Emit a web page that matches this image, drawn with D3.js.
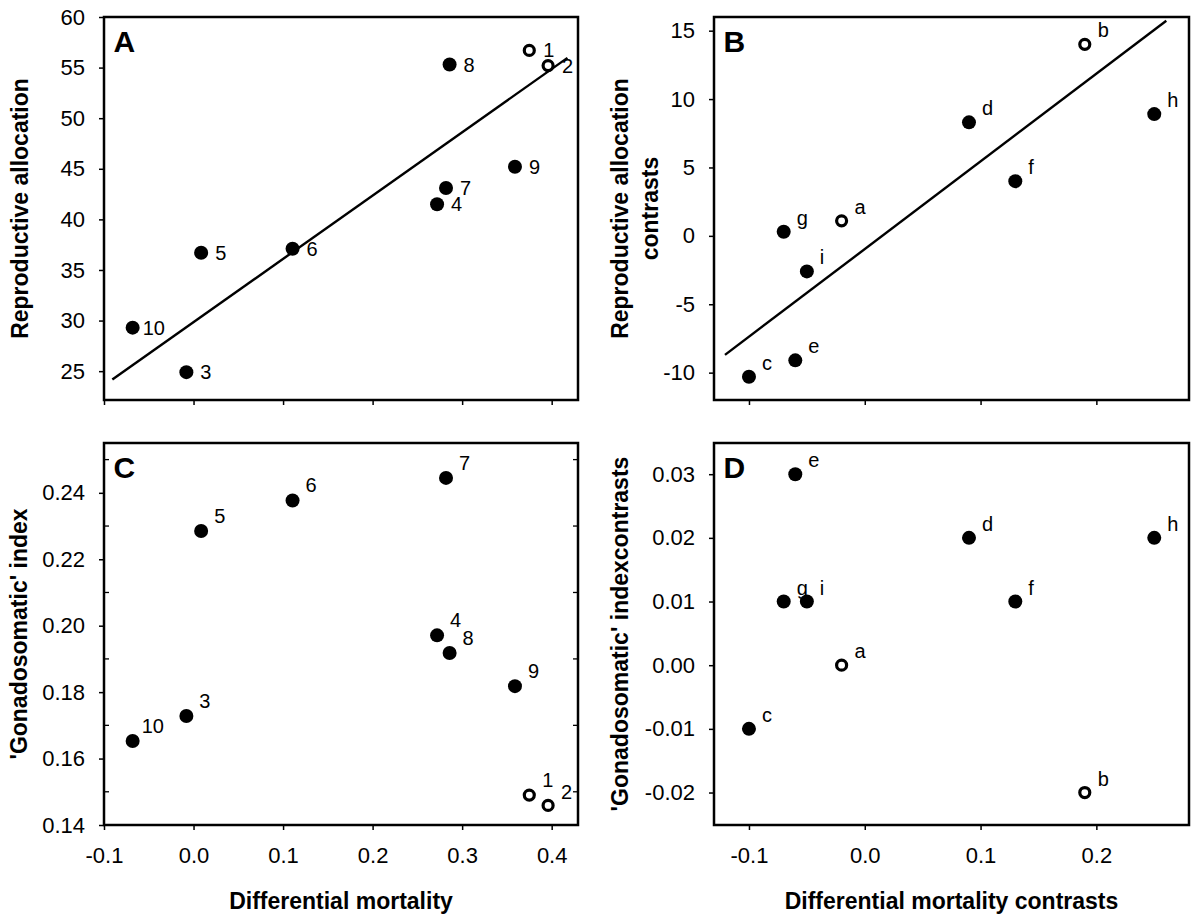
<!DOCTYPE html>
<html><head><meta charset="utf-8">
<script src="https://cdn.jsdelivr.net/npm/d3@7"></script>
<style>
html,body{margin:0;padding:0;background:#fff;}
svg{display:block;font-family:"Liberation Sans",Arial,Helvetica,sans-serif;}
</style></head><body>
<svg id="chart" width="1200" height="920"></svg>
<script>
// ---------- data ----------
const speciesIds = ["1","2","3","4","5","6","7","8","9","10"];
const speciesOpen = [true,true,false,false,false,false,false,false,false,false];
const differentialMortality = [0.375,0.396,-0.008,0.272,0.0085,0.1106,0.282,0.286,0.359,-0.068];
const reproductiveAllocation = [56.7,55.2,24.9,41.5,36.7,37.1,43.1,55.3,45.2,29.3];
const gonadosomaticIndex = [0.149,0.1459,0.1728,0.1971,0.2285,0.2377,0.2445,0.1918,0.1818,0.1653];

const contrastIds = ["a","b","c","d","e","f","g","h","i"];
const contrastOpen = [true,true,false,false,false,false,false,false,false];
const mortalityContrasts = [-0.02,0.19,-0.10,0.09,-0.06,0.13,-0.07,0.25,-0.05];
const allocationContrasts = [1.1,14.0,-10.3,8.3,-9.1,4.0,0.3,8.9,-2.6];
const gonadosomaticContrasts = [0.00,-0.02,-0.01,0.02,0.03,0.01,0.01,0.02,0.01];

const fitAx = [-0.0907, 0.4176];
const fitAy = [24.17, 55.96];
const fitBx = [-0.1207, 0.2604];
const fitBy = [-8.70, 15.72];

const ticksXA = [-0.1,0,0.1,0.2,0.3,0.4];
const ticksYA = [25,30,35,40,45,50,55,60];
const ticksXB = [-0.1,0,0.1,0.2];
const ticksYB = [-10,-5,0,5,10,15];
const ticksYC = [0.14,0.16,0.18,0.20,0.22,0.24];
const minorYC = [0.15,0.17,0.19,0.21,0.23,0.25];
const ticksYD = [-0.02,-0.01,0,0.01,0.02,0.03];

// ---------- layout ----------
const svg = d3.select("#chart");
const FONT = '"Liberation Sans",Arial,Helvetica,sans-serif';

const panels = [
  {letter:"A", box:{l:104,r:578,t:17,b:400}, xd:[-0.1,0.4294], yd:[22.15,60],
   xs:differentialMortality, ys:reproductiveAllocation, ids:speciesIds, open:speciesOpen,
   xt:ticksXA, yt:ticksYA, xfmt:null, yfmt:d=>d.toFixed(0), fit:[fitAx,fitAy],
   ldx:14, ldy:7, lover:{"10":{dx:10}},
   ytitle:["Reproductive allocation"], ytx:[28]},
  {letter:"B", box:{l:714,r:1189,t:17,b:400}, xd:[-0.1302,0.28], yd:[-12,16],
   xs:mortalityContrasts, ys:allocationContrasts, ids:contrastIds, open:contrastOpen,
   xt:ticksXB, yt:ticksYB, xfmt:null, yfmt:d=>d.toFixed(0), fit:[fitBx,fitBy],
   ldx:13, ldy:-7, lover:{},
   ytitle:["Reproductive allocation","contrasts"], ytx:[628,658]},
  {letter:"C", box:{l:104,r:578,t:443,b:825}, xd:[-0.1,0.4294], yd:[0.14,0.255],
   xs:differentialMortality, ys:gonadosomaticIndex, ids:speciesIds, open:speciesOpen,
   xt:ticksXA, yt:ticksYC, minor:minorYC, xfmt:d=>d.toFixed(1), yfmt:d=>d.toFixed(2), fit:null,
   ldx:13, ldy:-8, lover:{"10":{dx:9},"2":{dy:-6}},
   ytitle:["'Gonadosomatic' index"], ytx:[27],
   xtitle:"Differential mortality"},
  {letter:"D", box:{l:714,r:1189,t:443,b:825}, xd:[-0.1302,0.28], yd:[-0.0251,0.0349],
   xs:mortalityContrasts, ys:gonadosomaticContrasts, ids:contrastIds, open:contrastOpen,
   xt:ticksXB, yt:ticksYD, xfmt:d=>d.toFixed(1), yfmt:d=>d.toFixed(2), fit:null,
   ldx:13, ldy:-7, lover:{},
   ytitle:["'Gonadosomatic' indexcontrasts"], ytx:[628],
   xtitle:"Differential mortality contrasts"}
];

panels.forEach(p => {
  const b = p.box;
  const x = d3.scaleLinear().domain(p.xd).range([b.l, b.r]);
  const y = d3.scaleLinear().domain(p.yd).range([b.b, b.t]);
  const g = svg.append("g");

  // y axis
  const ya = d3.axisLeft(y).tickValues(p.yt).tickSize(5).tickPadding(14).tickFormat(p.yfmt);
  const yg = g.append("g").attr("transform", `translate(${b.l},0)`).call(ya);
  yg.select(".domain").remove();
  yg.selectAll("line").attr("stroke","#000").attr("stroke-width",1.5);
  yg.selectAll("text").attr("font-size",22).attr("font-family",FONT).attr("fill","#000");

  // x axis
  const xa = d3.axisBottom(x).tickValues(p.xt).tickSize(5).tickPadding(17)
      .tickFormat(p.xfmt ? p.xfmt : () => "");
  const xg = g.append("g").attr("transform", `translate(0,${b.b})`).call(xa);
  xg.select(".domain").remove();
  xg.selectAll("line").attr("stroke","#000").attr("stroke-width",1.5);
  xg.selectAll("text").attr("font-size",22).attr("font-family",FONT).attr("fill","#000");

  // minor ticks (inside, both sides)
  if (p.minor) {
    g.selectAll(".minL").data(p.minor).join("line")
      .attr("x1", b.l).attr("x2", b.l + 5)
      .attr("y1", d => y(d)).attr("y2", d => y(d))
      .attr("stroke","#000").attr("stroke-width",1.3);
    g.selectAll(".minR").data(p.minor).join("line")
      .attr("x1", b.r).attr("x2", b.r - 5)
      .attr("y1", d => y(d)).attr("y2", d => y(d))
      .attr("stroke","#000").attr("stroke-width",1.3);
  }

  // frame
  g.append("rect").attr("x", b.l).attr("y", b.t)
    .attr("width", b.r - b.l).attr("height", b.b - b.t)
    .attr("fill","none").attr("stroke","#000").attr("stroke-width",2.5);

  // regression line
  if (p.fit) {
    const pts = p.fit[0].map((xv,i) => [xv, p.fit[1][i]]);
    g.append("path")
      .attr("d", d3.line().x(d => x(d[0])).y(d => y(d[1]))(pts))
      .attr("fill","none").attr("stroke","#000").attr("stroke-width",2.4);
  }

  // points
  const data = p.ids.map((id,i) => ({id, xv:p.xs[i], yv:p.ys[i], open:p.open[i]}));
  g.selectAll("circle.pt").data(data).join("circle")
    .attr("class","pt")
    .attr("cx", d => x(d.xv)).attr("cy", d => y(d.yv))
    .attr("r", d => d.open ? 5 : 7)
    .attr("fill", d => d.open ? "#fff" : "#000")
    .attr("stroke", "#000")
    .attr("stroke-width", d => d.open ? 3.2 : 0);

  // point labels
  g.selectAll("text.lab").data(data).join("text")
    .attr("class","lab")
    .attr("x", d => x(d.xv) + ((p.lover[d.id] && p.lover[d.id].dx !== undefined) ? p.lover[d.id].dx : p.ldx))
    .attr("y", d => y(d.yv) + ((p.lover[d.id] && p.lover[d.id].dy !== undefined) ? p.lover[d.id].dy : p.ldy))
    .attr("font-size", 20).attr("font-family", FONT).attr("fill","#000")
    .text(d => d.id);

  // panel letter
  g.append("text").attr("x", b.l + 9.5).attr("y", b.t + 34.5)
    .attr("font-size", 30).attr("font-weight","bold").attr("font-family",FONT)
    .text(p.letter);

  // y title
  const cy = (b.t + b.b) / 2;
  p.ytitle.forEach((t, i) => {
    g.append("text")
      .attr("transform", `translate(${p.ytx[i]},${cy}) rotate(-90)`)
      .attr("text-anchor","middle")
      .attr("font-size",23).attr("font-weight","bold").attr("font-family",FONT)
      .text(t);
  });

  // x title
  if (p.xtitle) {
    g.append("text").attr("x", (b.l + b.r) / 2).attr("y", 909)
      .attr("text-anchor","middle")
      .attr("font-size",23).attr("font-weight","bold").attr("font-family",FONT)
      .text(p.xtitle);
  }
});
</script>
</body></html>
